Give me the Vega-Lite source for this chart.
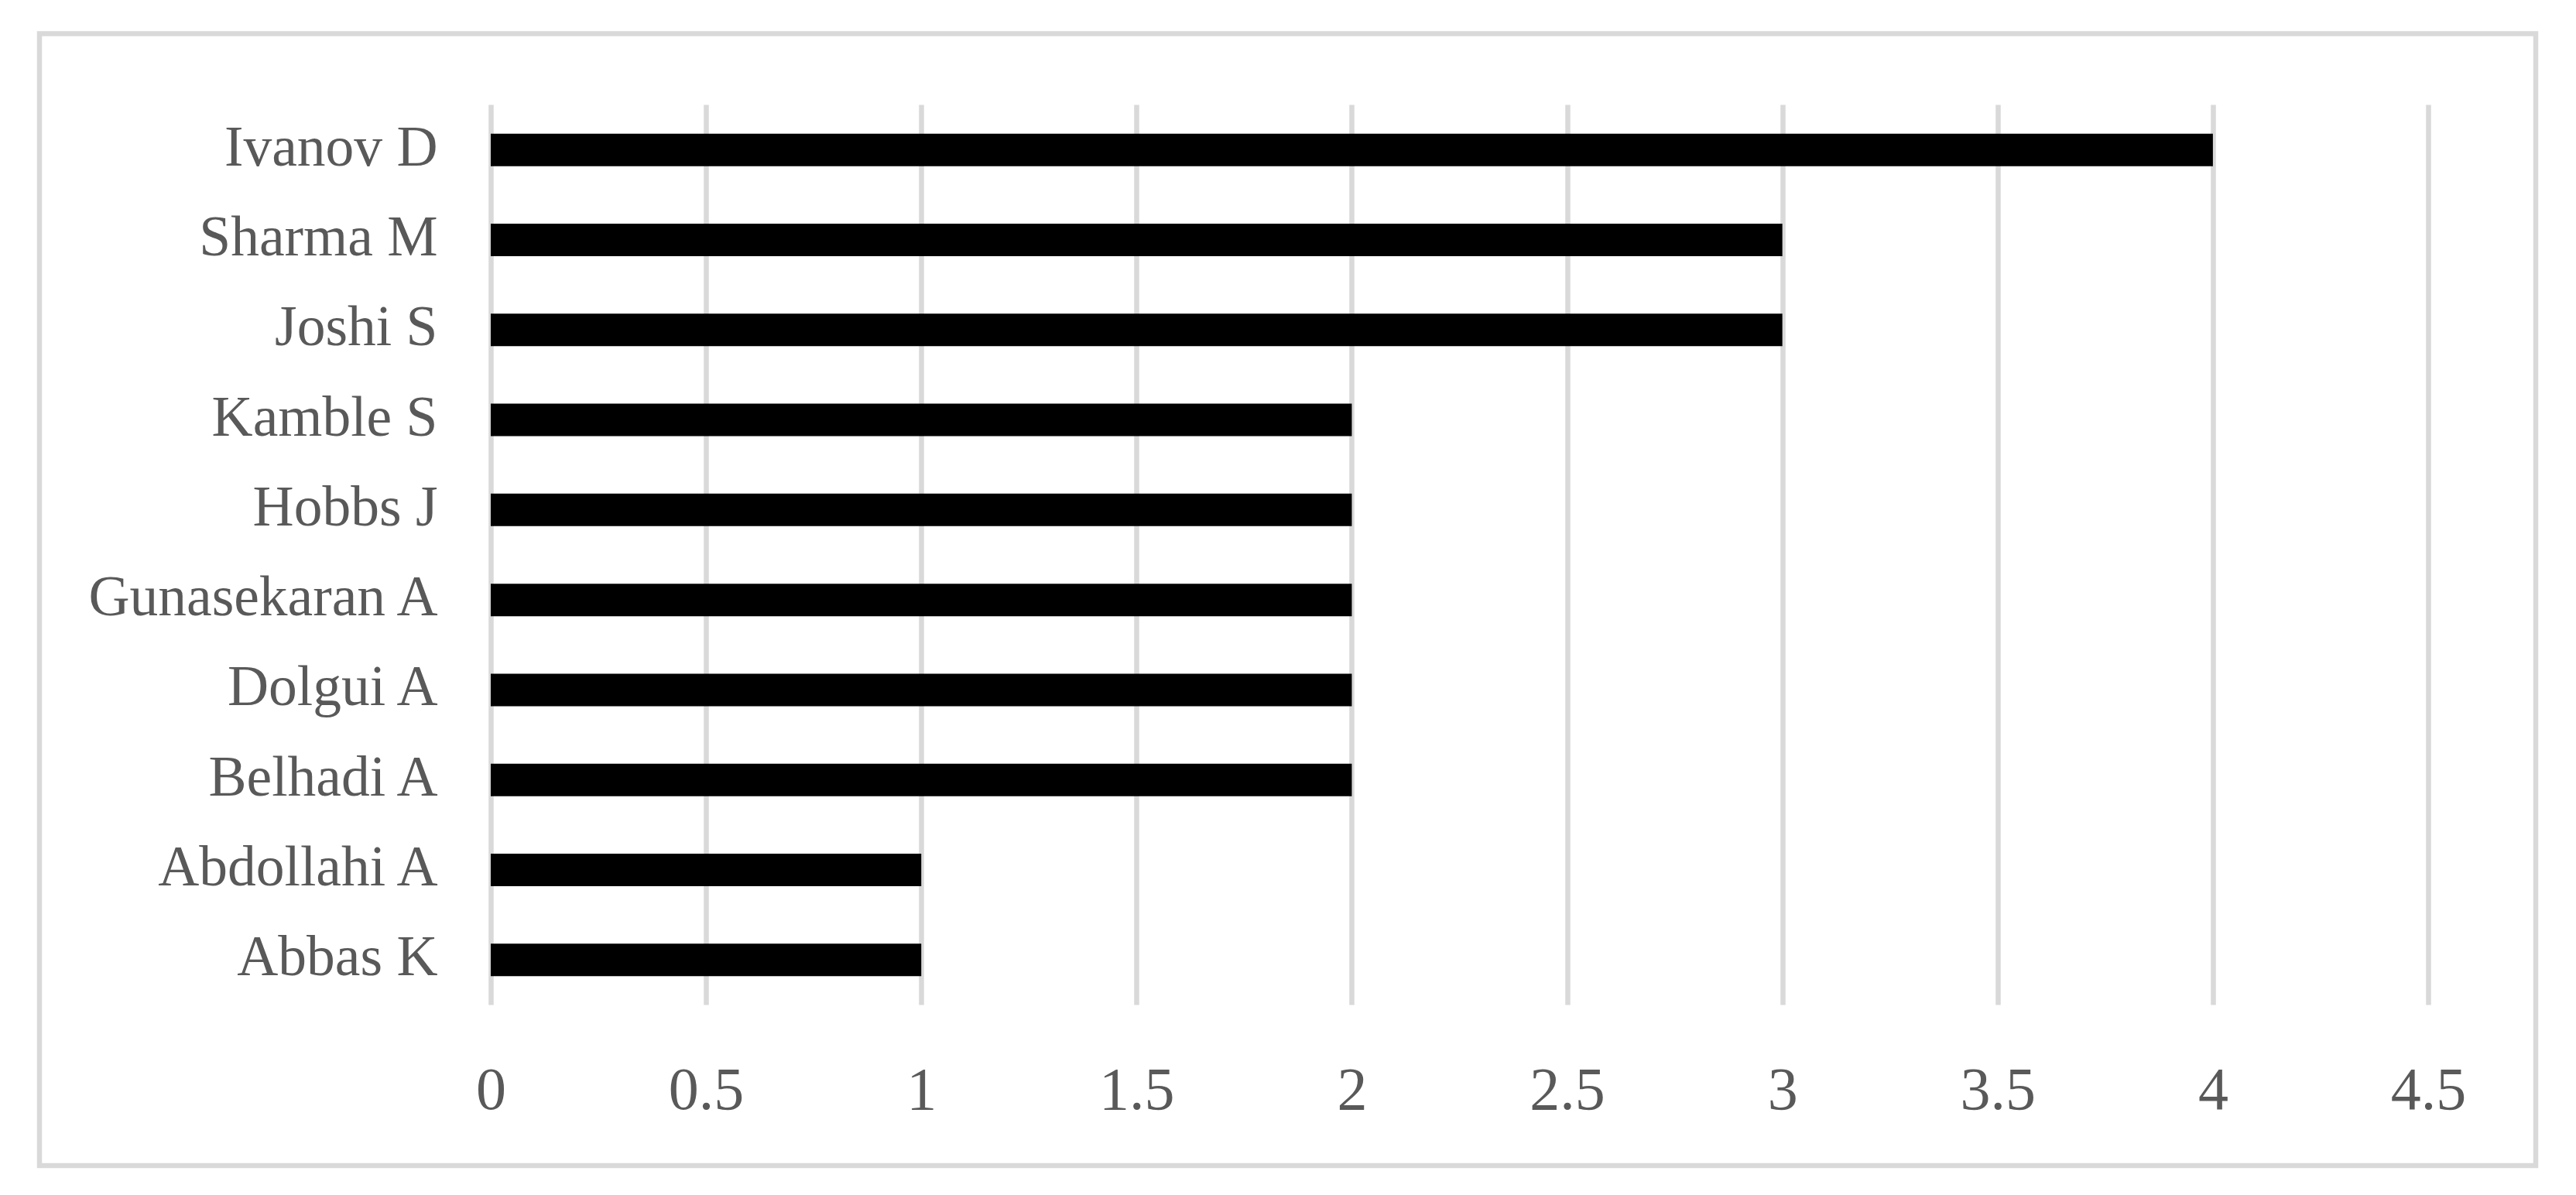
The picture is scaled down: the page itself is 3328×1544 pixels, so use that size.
{
  "$schema": "https://vega.github.io/schema/vega-lite/v6.json",
  "autosize": {"type": "none"},
  "padding": {"left": 51, "top": 43.5, "right": 52, "bottom": 38},
  "width": 3225,
  "height": 1462.5,
  "background": "white",
  "config": {
    "view": {"stroke": "#d9d9d9", "strokeWidth": 6.5},
    "font": "Liberation Serif"
  },
  "data": {
    "values": [
      {"author": "Ivanov D", "count": 4},
      {"author": "Sharma M", "count": 3},
      {"author": "Joshi S", "count": 3},
      {"author": "Kamble S", "count": 2},
      {"author": "Hobbs J", "count": 2},
      {"author": "Gunasekaran A", "count": 2},
      {"author": "Dolgui A", "count": 2},
      {"author": "Belhadi A", "count": 2},
      {"author": "Abdollahi A", "count": 1},
      {"author": "Abbas K", "count": 1}
    ]
  },
  "mark": {"type": "bar", "color": "black"},
  "encoding": {
    "y": {
      "field": "author",
      "type": "nominal",
      "sort": null,
      "scale": {"range": [92, 1255], "paddingInner": 0.639, "paddingOuter": 0.3195},
      "axis": {
        "title": null,
        "orient": "left",
        "offset": -583,
        "domain": false,
        "ticks": false,
        "grid": false,
        "labelPadding": 69,
        "labelLimit": 0,
        "labelFont": "Liberation Serif",
        "labelFontSize": 73.5,
        "labelColor": "#595959",
        "labelBaseline": "alphabetic",
        "labelOffset": 20
      }
    },
    "x": {
      "field": "count",
      "type": "quantitative",
      "scale": {"domain": [0, 4.5], "range": [583, 3086], "nice": false, "zero": true},
      "axis": {
        "title": null,
        "orient": "bottom",
        "offset": -208,
        "domain": false,
        "grid": false,
        "ticks": true,
        "tickSize": -1163,
        "tickWidth": 6.5,
        "tickColor": "#d9d9d9",
        "tickCap": "butt",
        "values": [0, 0.5, 1, 1.5, 2, 2.5, 3, 3.5, 4, 4.5],
        "format": "~g",
        "labelFlush": false,
        "labelOverlap": false,
        "labelPadding": 1297,
        "labelFont": "Liberation Serif",
        "labelFontSize": 78,
        "labelColor": "#595959",
        "labelBaseline": "alphabetic"
      }
    }
  }
}
